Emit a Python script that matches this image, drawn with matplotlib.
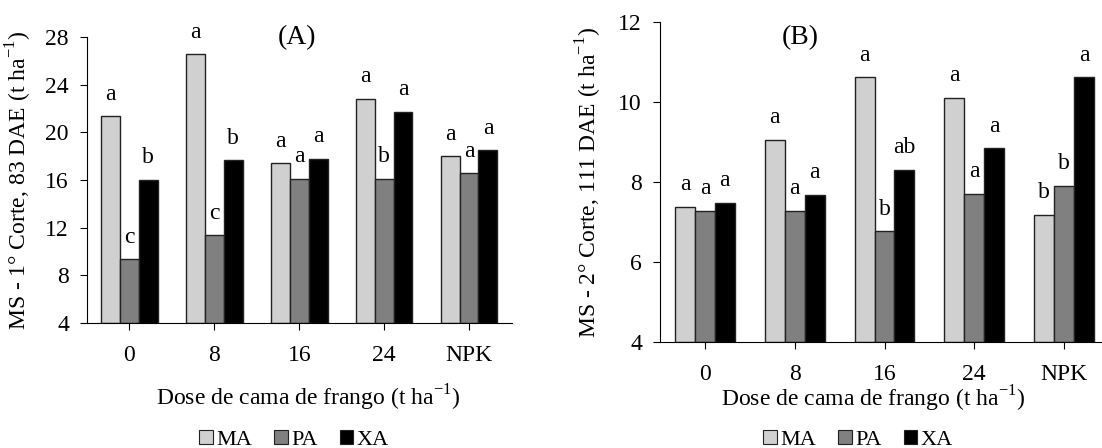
import numpy as np
import matplotlib
matplotlib.use("Agg")
import matplotlib.pyplot as plt
from matplotlib.patches import Patch

plt.rcParams['font.family'] = ['Liberation Serif', 'DejaVu Serif']
plt.rcParams['mathtext.fontset'] = 'custom'
plt.rcParams['mathtext.rm'] = 'Liberation Serif'

doses = ["0", "8", "16", "24", "NPK"]
series = ["MA", "PA", "XA"]
colors = ["#d0d0d0", "#808080", "#000000"]

# first cut (A)
ma_a = [21.35, 26.55, 17.4, 22.8, 18.0]
pa_a = [9.35, 11.35, 16.1, 16.1, 16.55]
xa_a = [16.0, 17.65, 17.75, 21.7, 18.5]
let_ma_a = ["a", "a", "a", "a", "a"]
let_pa_a = ["c", "c", "a", "b", "a"]
let_xa_a = ["b", "b", "a", "a", "a"]

# second cut (B)
ma_b = [7.38, 9.05, 10.62, 10.1, 7.18]
pa_b = [7.28, 7.28, 6.77, 7.7, 7.91]
xa_b = [7.48, 7.68, 8.31, 8.84, 10.62]
let_ma_b = ["a", "a", "a", "a", "b"]
let_pa_b = ["a", "a", "b", "a", "b"]
let_xa_b = ["a", "a", "ab", "a", "a"]

W, H = 1102, 448
FS = 17
fig = plt.figure(figsize=(W / 100, H / 100), dpi=100)

def px_axes(x0, x1, ytop, ybot):
    return fig.add_axes([x0 / W, 1 - ybot / H, (x1 - x0) / W, (ybot - ytop) / H])

def draw(ax, vals, lets, ylim, yticks, ylabel):
    x = np.arange(len(doses))
    w = 0.222
    for i, (v, l) in enumerate(zip(vals, lets)):
        pos = x + (i - 1) * w
        ax.bar(pos, np.array(v) - ylim[0], w, bottom=ylim[0], color=colors[i],
               edgecolor="#222222", linewidth=1.0)
        for xp, yv, t in zip(pos, v, l):
            ax.annotate(t, (xp, yv), xytext=(0, 12), textcoords="offset points",
                        ha="center", va="baseline", fontsize=FS)
    ax.set_xlim(-0.5, 4.5)
    ax.set_ylim(*ylim)
    ax.set_yticks(yticks)
    ax.set_xticks(x)
    ax.set_xticklabels(doses)
    ax.spines["top"].set_visible(False)
    ax.spines["right"].set_visible(False)
    ax.tick_params(direction="out", length=5, labelsize=FS)
    ax.tick_params(axis="x", pad=11)
    ax.tick_params(axis="y", pad=8)
    ax.set_ylabel(ylabel, fontsize=FS)
    ax.set_xlabel("Dose de cama de frango (t ha$^{-1}$)", fontsize=FS)

axA = px_axes(87, 511.5, 37, 323)
draw(axA, [ma_a, pa_a, xa_a], [let_ma_a, let_pa_a, let_xa_a], (4, 28),
     range(4, 29, 4), "MS - 1° Corte, 83 DAE (t ha$^{-1}$)")
axA.yaxis.set_label_coords(-0.125, 0.5)
axA.xaxis.set_label_coords(0.52, -0.21)
axA.text(0.495, 0.997, "(A)", transform=axA.transAxes, ha="center", va="center", fontsize=20)

axB = px_axes(660, 1109, 22, 342)
draw(axB, [ma_b, pa_b, xa_b], [let_ma_b, let_pa_b, let_xa_b], (4, 12),
     range(4, 13, 2), "MS - 2° Corte, 111 DAE (t ha$^{-1}$)")
axB.yaxis.set_label_coords(-0.125, 0.5)
axB.xaxis.set_label_coords(0.475, -0.13)
axB.text(0.312, 0.95, "(B)", transform=axB.transAxes, ha="center", va="center", fontsize=20)

handles = [Patch(facecolor=c, edgecolor="#222222", linewidth=0.8, label=s) for c, s in zip(colors, series)]
for cx in (294, 858):
    fig.legend(handles=handles, loc="center", bbox_to_anchor=(cx / W, 1 - 440 / H),
               ncol=3, frameon=False, fontsize=16, handlelength=0.6, handleheight=0.6,
               handletextpad=0.15, columnspacing=1.0, borderpad=0)

fig.savefig("out.png", dpi=100)
